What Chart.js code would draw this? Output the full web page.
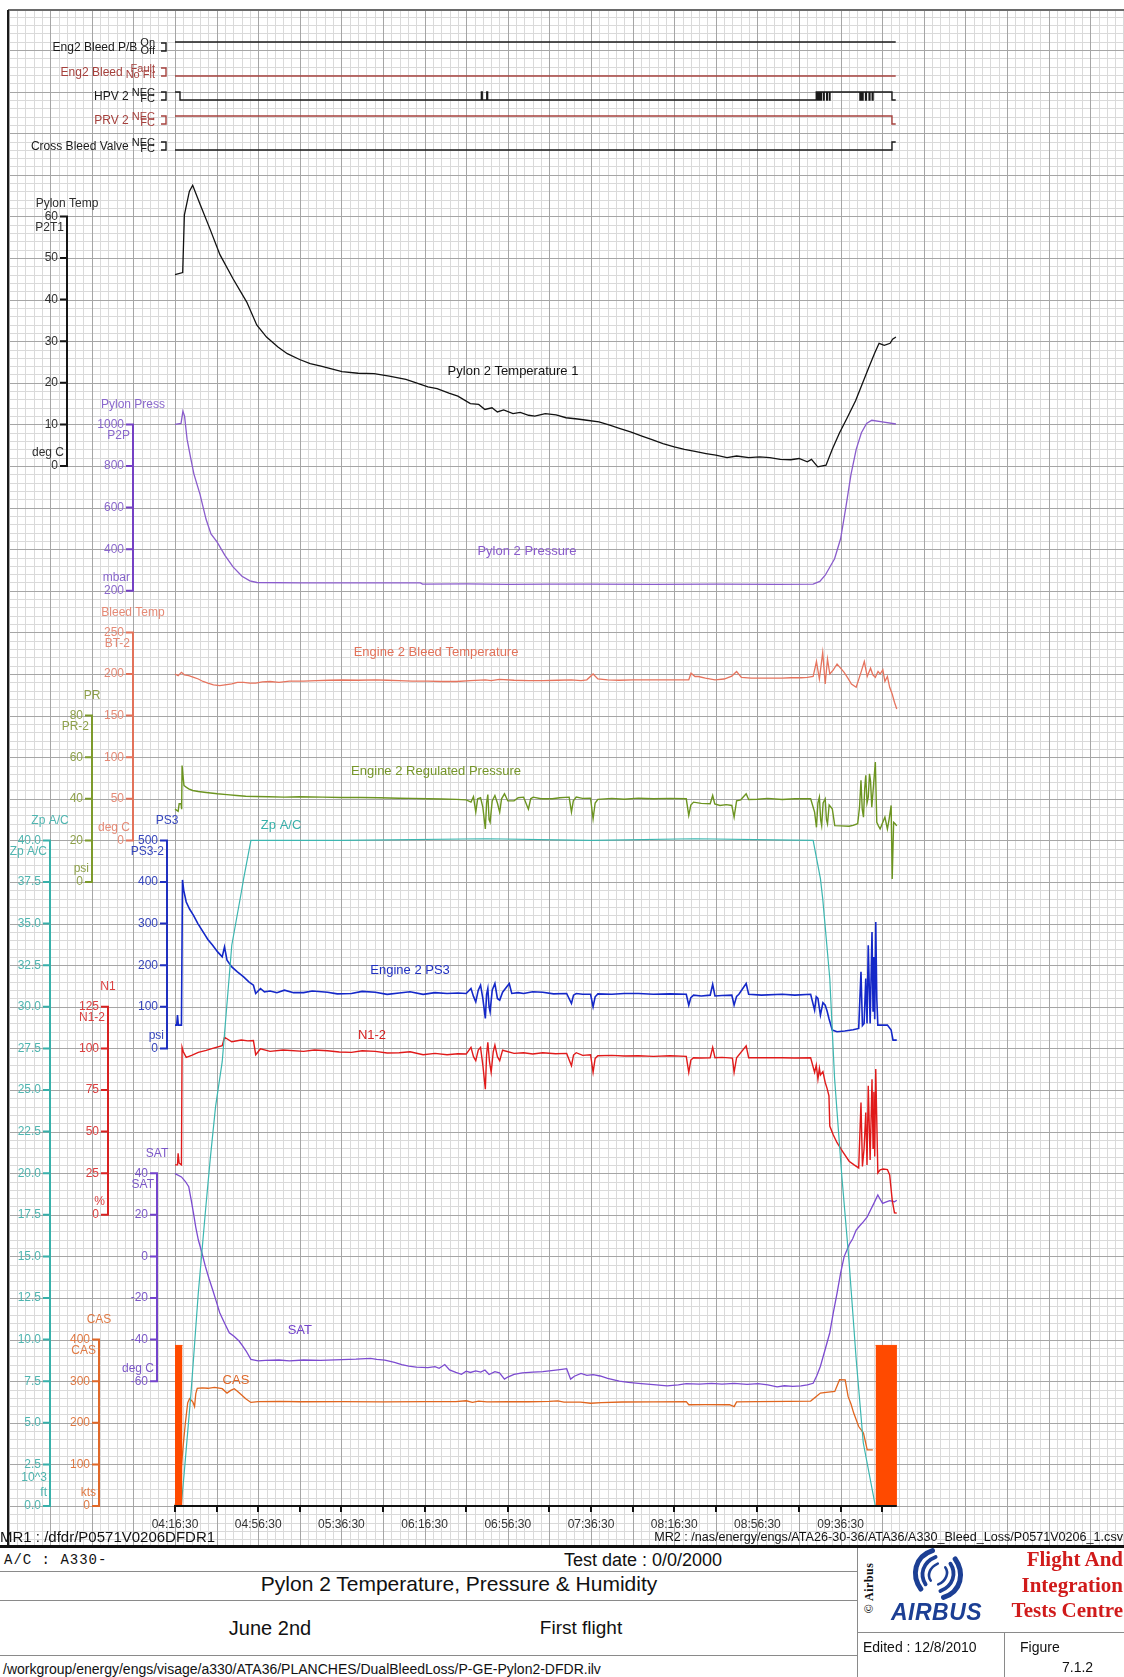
<!DOCTYPE html>
<html>
<head>
<meta charset="utf-8">
<script src="https://cdn.jsdelivr.net/npm/chart.js@4.4.1/dist/chart.umd.min.js"></script>
<style>
html, body { margin: 0; padding: 0; background: #fff; }
body { width: 1124px; height: 1677px; position: relative; overflow: hidden; font-family: "Liberation Sans", Arial, sans-serif; color: #111; }
#flight { position: absolute; left: 0; top: 0; }
.abs { position: absolute; white-space: nowrap; }
.hl { position: absolute; height: 1px; background: #8a8a8a; }
.vl { position: absolute; width: 1px; background: #8a8a8a; }
.mr { line-height: 16px; top: 1529px; }
.row { line-height: 24px; }
.red { font-family: "Liberation Serif", "Times New Roman", serif; font-weight: bold; color: #d01b1b; font-size: 21px; line-height: 24px; right: 1px; }
</style>
</head>
<body>
<canvas id="flight" width="1124" height="1546"></canvas>

<div class="abs mr" style="left:0;font-size:15px">MR1 : /dfdr/P0571V0206DFDR1</div>
<div class="abs mr" style="right:1px;font-size:12.6px">MR2 : /nas/energy/engs/ATA26-30-36/ATA36/A330_Bleed_Loss/P0571V0206_1.csv</div>

<!-- TITLE BLOCK -->
<div class="abs" style="left:0;top:1545px;width:1124px;height:3px;background:#111"></div>
<div class="hl" style="left:0;top:1571px;width:857px"></div>
<div class="hl" style="left:0;top:1600px;width:857px"></div>
<div class="hl" style="left:0;top:1655px;width:857px"></div>
<div class="vl" style="left:857px;top:1548px;height:129px"></div>
<div class="hl" style="left:857px;top:1632px;width:267px"></div>
<div class="vl" style="left:1004px;top:1632px;height:45px"></div>

<div class="abs" style="left:4px;top:1551px;font-family:'Liberation Mono',monospace;font-size:14px;line-height:18px;letter-spacing:1px">A/C : A330-</div>
<div class="abs" style="left:564px;top:1550px;font-size:18px;line-height:20px">Test date : 0/0/2000</div>
<div class="abs row" style="left:459px;top:1572px;font-size:21px;transform:translateX(-50%)">Pylon 2 Temperature, Pressure &amp; Humidity</div>
<div class="abs row" style="left:270px;top:1616px;font-size:20px;transform:translateX(-50%)">June 2nd</div>
<div class="abs row" style="left:581px;top:1616px;font-size:19px;transform:translateX(-50%)">First flight</div>
<div class="abs" style="left:3px;top:1661px;font-size:14px;line-height:16px">/workgroup/energy/engs/visage/a330/ATA36/PLANCHES/DualBleedLoss/P-GE-Pylon2-DFDR.ilv</div>

<div class="abs" style="left:869px;top:1588px;transform:translate(-50%,-50%) rotate(-90deg);font-family:'Liberation Serif',serif;font-weight:bold;font-size:12px;letter-spacing:0.5px">&copy; Airbus</div>
<svg class="abs" style="left:909px;top:1547px" width="58" height="54" viewBox="0 0 58 54">
  <g fill="none" stroke="#1c3f94" stroke-linecap="round" transform="rotate(-18 29 27)">
    <path d="M31 3 C12 3 3 20 8 36" stroke-width="5"/>
    <path d="M32 10 C18 11 11 22 14 33" stroke-width="3.8"/>
    <path d="M32 17 C23 18 18 25 20 31" stroke-width="2.6"/>
    <path d="M27 51 C46 51 55 34 50 18" stroke-width="5"/>
    <path d="M26 44 C40 43 47 32 44 21" stroke-width="3.8"/>
    <path d="M26 37 C35 36 40 29 38 23" stroke-width="2.6"/>
  </g>
</svg>
<div class="abs" style="left:891px;top:1599px;font-weight:bold;font-style:italic;font-size:23px;line-height:26px;color:#1c3f94;letter-spacing:0.5px">AIRBUS</div>
<div class="abs red" style="top:1547px">Flight And</div>
<div class="abs red" style="top:1573px">Integration</div>
<div class="abs red" style="top:1598px">Tests Centre</div>
<div class="abs" style="left:863px;top:1639px;font-size:14px;line-height:16px">Edited : 12/8/2010</div>
<div class="abs" style="left:1020px;top:1639px;font-size:14px;line-height:16px">Figure</div>
<div class="abs" style="left:1062px;top:1659px;font-size:14px;line-height:16px">7.1.2</div>

<script>
// TIME AXIS (minutes after 04:16:30)
const TIME_TICKS = [0, 20, 40, 60, 80, 100, 120, 140, 160, 180, 200, 220, 240, 260, 280, 300, 320, 340];
const TIME_LABEL_AT = [0, 40, 80, 120, 160, 200, 240, 280, 320];
const TIME_LABELS = ['04:16:30', '04:56:30', '05:36:30', '06:16:30', '06:56:30', '07:36:30', '08:16:30', '08:56:30', '09:36:30'];
const TIME_END = 347;

// Y AXIS TICKS
const PT_TICKS  = [0, 10, 20, 30, 40, 50, 60];
const PP_TICKS  = [200, 400, 600, 800, 1000];
const BT_TICKS  = [0, 50, 100, 150, 200, 250];
const PR_TICKS  = [0, 20, 40, 60, 80];
const ZP_TICKS  = [0, 2.5, 5, 7.5, 10, 12.5, 15, 17.5, 20, 22.5, 25, 27.5, 30, 32.5, 35, 37.5, 40];
const PS3_TICKS = [0, 100, 200, 300, 400, 500];
const N1_TICKS  = [0, 25, 50, 75, 100, 125];
const SAT_TICKS = [-60, -40, -20, 0, 20, 40];
const CAS_TICKS = [0, 100, 200, 300, 400];

// DISCRETE SIGNALS: [minute, state]  (state changes at that minute)
const PB_STATE    = [[0, 1], [346.5, 1]];
const FAULT_STATE = [[0, 0], [346.5, 0]];
const HPV_STATE   = [[0, 1], [2.4, 0], [147.3, 1], [147.7, 0], [149.9, 1], [150.3, 0], [308.3, 1], [308.8, 0], [309.2, 1], [309.6, 0], [310.0, 1], [310.4, 0], [310.8, 1], [311.8, 0], [312.1, 1], [313.3, 0], [313.6, 1], [314.6, 0], [314.9, 1], [329.3, 0], [329.7, 1], [330.3, 0], [330.8, 1], [332.0, 0], [332.4, 1], [333.7, 0], [334.1, 1], [335.2, 0], [335.6, 1], [344.7, 0], [346.5, 0]];
const PRV_STATE   = [[0, 1], [344.7, 0], [346.5, 0]];
const XBV_STATE   = [[0, 0], [344.7, 1], [346.5, 1]];

// ANALOG SERIES: [minute, value]
const PYLON_TEMP = [[0,46],[3.7,46.5],[4.5,60.3],[6.9,66],[8.5,67.5],[12,63],[16.8,57],[21.6,50.8],[27.9,45],[34.5,39.4],[39.3,33.9],[44,31],[49.5,28.6],[54,27],[59.9,25.6],[65,24.6],[70.2,24],[80.3,22.7],[88,22.3],[95.7,22.2],[103,21.6],[111,20.8],[116,20],[121.6,19],[126,18.6],[131.7,17.5],[136,16.8],[142,15],[146,14.8],[149,13.6],[152.4,14],[155,13],[158,13.5],[162.5,12.6],[166,12.9],[170,12.2],[173,12],[178,12.6],[183.2,12.3],[188,11.6],[193.5,11.3],[198,11],[203.8,10.6],[209,9.8],[214,9],[219,8.2],[224.5,7.2],[229,6.4],[234.6,5.4],[240,4.6],[244.9,4],[250,3.5],[255.3,3],[260,2.6],[265.4,2],[270,2.4],[275.9,2],[281,2.2],[286,2],[291,1.6],[296,1.5],[300,1.8],[304,1],[306,1.6],[309,-0.2],[313,0.2],[316,4],[319.5,8],[323,11.4],[327.2,15.7],[330.3,19.6],[333.4,23.5],[336.5,27.3],[338.5,29.5],[341,29],[343.8,29.5],[345,30.5],[346.6,31]];
const PYLON_PRESS = [[0,1000],[2.9,1005],[3.8,1063],[4.6,1040],[5.8,929],[7.5,840],[9.1,761],[12,665],[14.9,545],[17.3,473],[20.2,435],[24,370],[27.9,315],[32.2,270],[36,248],[39.4,240],[60,238],[90,238],[118,238],[119,232],[140,233],[160,231],[180,232],[200,232],[230,231],[260,232],[290,231],[306.8,232],[310,245],[312.6,275],[317.1,354],[320,450],[322.5,600],[325,760],[327.5,880],[330,960],[332.5,1005],[335,1020],[340,1012],[346.6,1002]];
const BLEED_TEMP = [[0,200],[1.5,198],[3.1,202],[4.5,199],[6.6,198],[9,196],[11.2,194],[13.5,191],[15.8,189],[18.5,187],[21.5,186],[24,187],[27.3,188],[30,190],[33,190],[36,189],[38.8,189],[42,190.5],[45.7,191],[50,190],[55,191.5],[61.8,191.5],[68,192],[74,192.5],[80.2,192.8],[88,192.5],[96.3,193],[102,192.5],[107.8,192],[114,191.5],[121.6,191.5],[128,191],[135.4,191],[142,192],[149.2,193],[152,192],[156,193.5],[163,192.5],[170,192],[176.8,192],[184,192.5],[190.6,193],[195.2,192],[198,193],[201,200],[203.3,194],[208,193],[213.6,192.5],[220,193],[227.4,193],[234,193],[241.2,193],[247,193],[248.1,201],[250,197],[251.6,197],[255,195],[259.6,193],[264,194],[267.7,197.5],[270,203],[272.3,196],[277,195],[282.6,195],[288,195],[291.9,195],[296,195.5],[301,195.5],[304,196],[306.8,197],[308.4,215],[309.8,194],[311.4,226],[312.6,188],[313.7,218],[314.8,200],[316.5,205],[318.3,212],[320,207],[321.7,202],[323.5,195],[325.2,188],[327.5,184],[329.8,202],[331.4,215],[332.8,197],[334.4,207],[335.5,199],[336.7,196],[338,203],[339,200],[340.3,205],[341.3,191],[342.5,197],[343.6,184],[344.8,176],[345.9,166],[347,158]];
const REG_PRESS = [[0,35],[1.5,34],[2,37.6],[2.9,37.6],[3.2,35],[3.4,56],[4.3,46.4],[5.5,45.5],[6.6,44.8],[8.5,44],[11.2,43.5],[15,43],[20.4,42.4],[25,42],[29.6,41.6],[34,41.2],[38.8,41.1],[45,41],[52.6,40.8],[60,41],[71,40.8],[80,40.6],[89.4,40.6],[98,40.5],[107.8,40.3],[114,40.2],[121.6,40],[128,39.9],[135.4,39.7],[140,39.5],[142.3,38.4],[143.5,41],[144.6,33.6],[145.5,40],[146.9,40.5],[148,36],[149.2,25.5],[149.8,38],[150.4,42],[151,30],[151.5,28.7],[152.5,39],[153.8,41.6],[155,38],[156.1,33.6],[157,40],[158.4,42.4],[160,39],[163,39],[165,40.5],[167.6,40.8],[169.9,35],[171,40],[172.2,40.8],[176,40],[181.4,40],[185,40.5],[189.5,40.8],[190.6,33.6],[191.5,39],[192.9,40.8],[196,40.2],[199.8,40.3],[201,30.3],[202,38],[203.3,39.7],[210,40.2],[216,39.8],[222.8,40.3],[230,40],[238,40.2],[245.8,40],[247,32],[248,37],[249.3,38.4],[253,37.8],[257.3,37.6],[258.5,41.6],[259.5,37.5],[262,36.8],[265,37.2],[267.7,36.8],[268.8,31.2],[270,39],[272,39.5],[274.6,42.4],[275.8,39.7],[280,39.8],[285,40.2],[291.9,39.7],[298,40],[305.6,40],[307.5,33.6],[308.4,26.3],[309.1,38],[309.8,40.8],[310.4,30],[310.9,27.1],[311.6,38],[312.6,40],[313.2,30],[313.7,28],[314.5,37],[316,35.2],[317.2,27.1],[320,27],[324.1,26.8],[326,27.2],[328.2,28],[329.1,36],[329.8,48.9],[330.4,35],[331,31.2],[331.6,45],[332.1,51.3],[332.7,38],[333.3,40.8],[333.9,52],[334.4,48.5],[335,36],[335.5,42.3],[336.1,50],[336.7,57.7],[337.4,28.7],[338.2,27],[339,25.5],[340,28],[341.3,31.2],[342.5,25.5],[343.3,30],[344.3,36.8],[344.8,1.4],[345.5,28.7],[346.2,28],[347,27]];
const ZP_AC = [[0,0],[3,0],[4.3,1.8],[7.7,6.8],[11.2,12.8],[14.7,17.8],[16.9,20.8],[19.5,24],[22.7,26.7],[27.3,33.7],[31.9,36.9],[33,37.7],[36.5,40],[80,40],[150,40.1],[200,40],[250,40.1],[306.8,40],[310.3,37.7],[311.4,36.5],[314.8,31.7],[317.1,25.7],[320.6,19.8],[324,14.8],[327.5,8.8],[330.9,3.8],[336.7,0],[347,0]];
const PS3 = [[0,56],[0.8,56],[1.2,80],[1.6,56],[3.1,56],[3.6,405],[4.2,380],[5.4,352],[7,335],[8.9,320],[11,300],[13.5,280],[15.8,262],[18.1,248],[20.5,232],[22.7,220],[23.8,244],[25,212],[27.3,196],[30,184],[33,172],[35.5,160],[37.7,152],[38.8,132],[41.1,144],[43,136],[45.7,138],[49,134],[52.6,140],[57,134],[61.8,134],[66,138],[73.3,135],[78,131],[84.8,132],[90,137],[96.3,135],[102,130],[107.8,133],[113,136],[119.3,130],[125,134],[130.8,132],[136,133],[140,132],[142.3,144],[143.5,125],[144.6,112],[145.8,140],[146.9,152],[148,120],[149.2,72],[149.8,130],[150.4,144],[151,100],[151.5,88],[152.5,140],[153.8,156],[155,120],[156.1,116],[157.5,135],[160.7,156],[161.9,132],[165,134],[167.6,132],[172,136],[176.8,135],[182,131],[188.3,132],[190.6,108],[191.6,128],[192.9,132],[196,130],[199.8,130],[201,100],[202,124],[203.3,131],[210,130],[216,132],[222.8,132],[230,130],[238,131],[245.8,130],[247,104],[248,122],[249.3,128],[253,126],[257.3,128],[258.5,154],[259.6,126],[263,127],[267.7,128],[268.8,104],[270,125],[271.1,130],[274.6,156],[275.8,130],[282,128],[291.9,130],[298,128],[305.6,130],[307.5,92],[308.3,124],[309.1,120],[309.7,100],[310.3,80],[311.5,110],[312.6,104],[313.5,90],[314.4,72],[316,44],[318.3,40],[322,42],[326,45],[328.7,48],[329.8,184],[330.5,55],[331.3,60],[332.1,168],[332.7,60],[333.3,248],[334.2,60],[335.1,280],[335.6,90],[336,220],[336.4,70],[336.9,304],[337.4,120],[337.9,56],[340,56],[342.5,56],[344.3,44],[345.2,20],[347,20]];
const N1 = [[0,30],[1.2,30],[1.5,37],[2,31],[3.1,30],[3.4,100.6],[4,98],[5.4,94.6],[8,95.8],[11.2,97.6],[15,98.8],[18.1,100],[22.7,101.6],[23.8,106.7],[27.3,104],[31.9,105],[35,104.5],[37.7,104.7],[38.8,96.2],[41.1,99.8],[45.7,98.2],[52,99],[61.8,98.2],[67,99],[73.3,98.6],[79,97.8],[84.8,97.6],[90,98.6],[96.3,98.2],[102,97.2],[107.8,97.4],[113,98],[119.3,96.2],[125,97],[130.8,96.2],[136,96.8],[140,96.6],[142.3,100.6],[143.5,95],[144.6,92.6],[145.8,99],[146.9,100.6],[148,90],[149.2,75.5],[149.8,96],[150.4,103.7],[151.2,92],[152,85.6],[153,98],[153.8,102],[155,95],[156.1,92.6],[157.5,99],[158.4,98.6],[163,97],[167.6,97.4],[172,96.6],[176.8,97.4],[183,96.8],[188.3,97],[190.6,89.6],[191.6,96],[192.9,97.4],[196,95.8],[199.8,96.2],[201,85.6],[202,94],[203.3,95.6],[210,95.8],[216,95.4],[222.8,95.6],[230,95.2],[238,95.6],[245.8,95.2],[247,85.6],[248,93],[249.3,94.4],[253,94.2],[257.3,94.4],[258.5,100.6],[259.6,94.4],[263,94.6],[268,94.2],[268.8,85.6],[270,94.4],[274.6,101.6],[275.8,94.4],[282,94.4],[291.9,94.4],[298,94.2],[305.6,94.4],[307.5,85.6],[308.3,90],[309.1,81.5],[309.8,88],[310.3,84],[311.5,86],[312.6,79.5],[313.5,76],[314.4,71.5],[314.8,53.3],[316.5,48],[318.3,43.3],[321,38],[324.1,32.2],[326.5,30],[328.7,28.2],[329.8,67.5],[330.5,29],[331.3,40],[332.1,61.4],[332.7,30],[333.3,77.5],[334.2,33],[335.1,81.5],[335.6,40],[336,74],[336.4,35],[336.9,87.6],[337.9,25.2],[339,27],[340.5,27.5],[342.5,27.2],[343.6,24],[344.8,9],[345.9,1.2],[347,1]];
const SAT = [[0,39.8],[3.1,38.2],[5,36],[6.6,33.5],[7.8,27],[8.9,20.7],[10,14],[11.2,8],[13,1.5],[14.6,-4.8],[16.3,-10.5],[18.1,-16],[19.8,-21.5],[21.5,-27.1],[23.8,-32],[26.1,-36.7],[28.5,-38.5],[30.8,-40.7],[32.5,-43],[34.2,-45.5],[36.5,-49.5],[40,-50.2],[43.4,-50],[50,-49.8],[55,-50.2],[61.8,-49.8],[70,-50],[80.2,-49.6],[87,-49.4],[94,-49],[97,-49.5],[100.9,-49.9],[105.5,-50.9],[109,-52],[112.4,-52.8],[116,-53.2],[121.6,-53.5],[125,-53],[127,-53.8],[129.7,-52],[132,-54.6],[135,-55.8],[137.7,-56.7],[140,-55.2],[142,-55.8],[144.6,-55],[147,-55.6],[149,-54.6],[151,-56.8],[153.8,-55.4],[156,-56],[158.4,-59],[160,-58],[163,-56.7],[167,-56],[172,-55.6],[176.8,-55.4],[182,-54.8],[186,-54.3],[188.3,-54],[190.2,-59],[192,-57.6],[195.2,-56.3],[198,-57.2],[201,-56.8],[204.4,-57.5],[208,-58.6],[213.6,-60],[218,-60.6],[222.8,-61],[230,-61.6],[236.6,-62.2],[242,-61.8],[245.8,-61.2],[252,-61.4],[258,-61],[263,-61.4],[268.8,-61],[275,-61.5],[280.3,-61.2],[285,-61.8],[289.5,-62.7],[293,-62.2],[297,-62.5],[301,-62.2],[304,-61.8],[306.8,-61],[308.5,-57.5],[310.3,-52.8],[312.5,-45],[314.8,-36.7],[316.5,-27],[318.3,-17.6],[320,-8],[321.7,-0.1],[323,3],[324.1,5.6],[325.8,8.5],[327.5,12.7],[329,14.5],[331,16.7],[332.8,19],[334.4,22.3],[336,25.5],[337.9,29.5],[339,27.5],[340.2,25.5],[342,26.2],[343.6,26.8],[345.9,26.3],[347,27]];
const CAS = [[0,0],[2.5,60],[3.5,120],[4.3,164],[5,200],[6.1,248],[7,258],[7.7,255],[8.6,250],[9.4,239],[10,270],[10.7,283],[13,284],[15.8,283],[19,285],[22.7,282],[25,271.5],[26.8,278],[28.5,282],[30,276],[31.9,267.5],[34,258],[36.5,249],[40,251],[50.3,251.4],[60,250.6],[80,251],[100,250.4],[120,251],[135,250.8],[140,253],[143,249],[146,252],[150,250.2],[160,251],[170,250.6],[180,251.6],[184,252.6],[187,249.6],[195,249.8],[199.8,247],[205,248.6],[215,250],[230,250.4],[245.8,250.8],[247,243.4],[255,243.6],[266.6,243.4],[268.8,239],[270,250.4],[280,251],[295,251.4],[305.6,252.2],[308,262],[310.3,271.5],[313,273],[317.2,275.5],[319.5,303.6],[322.2,303],[323.6,263.5],[325,245],[326.3,223.4],[328.7,191],[331,175.3],[332.8,135],[335.5,135]];
const GROUND_BAR_1 = [[0, 386], [3.6, 386]];
const GROUND_BAR_2 = [[336.8, 386], [347.1, 386]];

// LAYOUT OF THE GRAPH PAPER
const G = 41.6;            // one big square, px
const ROWS = 36;           // big squares from x axis up to the top border
const X0 = 175, Y0 = 1506; // pixel of 04:16:30 on the x axis
const MIN_PER_SQ = 20;
const X_MAX = 18 * MIN_PER_SQ;
const PLOT_TOP = Y0 - ROWS * G;
const FONT = '"Liberation Sans", Arial, sans-serif';

// axis placement: x of the axis line, grid row of its lowest tick
const AXES = [
  { id: 'pt',  ticks: PT_TICKS,  row: 25, x: 67,  color: '#151515', text: '#303030', title: 'Pylon Temp',  name: 'P2T1',   unit: ['deg C'], gap: 13 },
  { id: 'pp',  ticks: PP_TICKS,  row: 22, x: 133, color: '#7440c4', text: '#8a68cc', title: 'Pylon Press', name: 'P2P',    unit: ['mbar'] },
  { id: 'bt',  ticks: BT_TICKS,  row: 16, x: 133, color: '#e2725a', text: '#e58a76', title: 'Bleed Temp',  name: 'BT-2',   unit: ['deg C'] },
  { id: 'pr',  ticks: PR_TICKS,  row: 15, x: 92,  color: '#7c9a2c', text: '#8ea04a', title: 'PR',          name: 'PR-2',   unit: ['psi'] },
  { id: 'zp',  ticks: ZP_TICKS,  row: 0,  x: 50,  color: '#38b0aa', text: '#4fb5b0', title: 'Zp A/C',      name: 'Zp A/C', unit: ['10^3', 'ft'], dec: 1 },
  { id: 'ps3', ticks: PS3_TICKS, row: 11, x: 167, color: '#2030c0', text: '#3646bc', title: 'PS3',         name: 'PS3-2',  unit: ['psi'] },
  { id: 'n1',  ticks: N1_TICKS,  row: 7,  x: 108, color: '#d82222', text: '#dc4040', title: 'N1',          name: 'N1-2',   unit: ['%'] },
  { id: 'sat', ticks: SAT_TICKS, row: 3,  x: 157, color: '#7444cc', text: '#7c58c8', title: 'SAT',         name: 'SAT',    unit: ['deg C'] },
  { id: 'cas', ticks: CAS_TICKS, row: 0,  x: 99,  color: '#e06828', text: '#e07a44', title: 'CAS',         name: 'CAS',    unit: ['kts'] }
];

// discrete rows: pixel of state 1 / state 0
const DISC = [
  { id: 'd1', data: PB_STATE,    label: 'Eng2 Bleed P/B',    hi: 'On',    lo: 'Off',    color: '#1a1a1a', y1: 42,  y0: 52 },
  { id: 'd2', data: FAULT_STATE, label: 'Eng2 Bleed',        hi: 'Fault', lo: 'No Flt', color: '#a5403c', y1: 68,  y0: 76 },
  { id: 'd3', data: HPV_STATE,   label: 'HPV 2',             hi: 'NEC',   lo: 'FC',     color: '#1a1a1a', y1: 92,  y0: 100 },
  { id: 'd4', data: PRV_STATE,   label: 'PRV 2',             hi: 'NEC',   lo: 'FC',     color: '#a5403c', y1: 116, y0: 124 },
  { id: 'd5', data: XBV_STATE,   label: 'Cross Bleed Valve', hi: 'NEC',   lo: 'FC',     color: '#1a1a1a', y1: 142, y0: 150 }
];

// curve names written on the plot, at [minute, value] of their own axis
const CURVE_LABELS = [
  { text: 'Pylon 2 Temperature 1',       axis: 'pt',  t: 162.5, v: 22.8,  color: '#151515' },
  { text: 'Pylon 2 Pressure',            axis: 'pp',  t: 169.2, v: 388,   color: '#8a5ccc' },
  { text: 'Engine 2 Bleed Temperature',  axis: 'bt',  t: 125.5, v: 226,   color: '#e2725a' },
  { text: 'Engine 2 Regulated Pressure', axis: 'pr',  t: 125.5, v: 53,    color: '#76962a' },
  { text: 'Zp A/C',                      axis: 'zp',  t: 51,    v: 40.9,  color: '#38b0aa' },
  { text: 'Engine 2 PS3',                axis: 'ps3', t: 113,   v: 188,   color: '#2030c0' },
  { text: 'N1-2',                        axis: 'n1',  t: 94.7,  v: 108,   color: '#d82222' },
  { text: 'SAT',                         axis: 'sat', t: 60,    v: -35.5, color: '#7444cc' },
  { text: 'CAS',                         axis: 'cas', t: 29.3,  v: 303,   color: '#e06828' }
];

const pts = arr => arr.map(([x, y]) => ({ x, y }));

// SCALES
const scales = { x: { type: 'linear', min: 0, max: X_MAX, display: false } };
AXES.forEach(a => {
  const step = a.ticks[1] - a.ticks[0];
  const min = a.ticks[0] - a.row * step;
  scales[a.id] = { type: 'linear', axis: 'y', position: 'left', display: false, min, max: min + ROWS * step };
});
DISC.forEach(d => {
  const k = d.y0 - d.y1;
  scales[d.id] = { type: 'linear', axis: 'y', position: 'left', display: false,
    min: -(Y0 - d.y0) / k, max: 1 + (d.y1 - PLOT_TOP) / k };
});

// DATASETS
function line(data, axis, color, width) {
  return { data: pts(data), yAxisID: axis, borderColor: color, borderWidth: width || 1.3,
    pointRadius: 0, tension: 0, fill: false, clip: false };
}
const datasets = [
  line(PYLON_TEMP, 'pt', '#121212', 1.3),
  line(PYLON_PRESS, 'pp', '#8a5ccc'),
  line(BLEED_TEMP, 'bt', '#e6745e'),
  line(REG_PRESS, 'pr', '#6c9420', 1.4),
  line(ZP_AC, 'zp', '#3cb6b0', 1.2),
  line(PS3, 'ps3', '#1428c8', 1.6),
  line(N1, 'n1', '#e01a1a', 1.4),
  line(SAT, 'sat', '#7c4bd0'),
  line(CAS, 'cas', '#e0651e')
];
[GROUND_BAR_1, GROUND_BAR_2].forEach(b => datasets.push({
  data: pts(b), yAxisID: 'cas', borderColor: '#ff4a00', backgroundColor: '#ff4a00', borderWidth: 1,
  pointRadius: 0, fill: { value: 0 }, order: -1, clip: false
}));
DISC.forEach(d => datasets.push({
  data: pts(d.data), yAxisID: d.id, borderColor: d.color, borderWidth: 1.4,
  pointRadius: 0, stepped: true, fill: false, clip: false
}));

// GRAPH PAPER BACKGROUND
const paperPlugin = {
  id: 'paper',
  beforeDraw(chart) {
    const { ctx, chartArea } = chart;
    const xs = chart.scales.x;
    const gx = xs.getPixelForValue(0);
    const gw = xs.getPixelForValue(MIN_PER_SQ) - gx;
    const gy = chartArea.bottom;
    const gh = (chartArea.bottom - chartArea.top) / ROWS;
    const L = 8, T = 10, R = chart.width, B = chart.height;
    ctx.save();
    ctx.fillStyle = '#fff';
    ctx.fillRect(0, 0, chart.width, chart.height);
    ctx.lineWidth = 1;
    [[false, '#dadada'], [true, '#a6a6a6']].forEach(([major, col]) => {
      ctx.strokeStyle = col;
      ctx.beginPath();
      for (let i = -30; i <= 150; i++) {
        if ((i % 5 === 0) !== major) continue;
        const x = Math.round(gx + i * gw / 5) + 0.5;
        if (x > L && x < R) { ctx.moveTo(x, T); ctx.lineTo(x, B); }
      }
      for (let j = -10; j <= ROWS * 5 + 10; j++) {
        if ((j % 5 === 0) !== major) continue;
        const y = Math.round(gy - j * gh / 5) + 0.5;
        if (y > T && y < B) { ctx.moveTo(L, y); ctx.lineTo(R, y); }
      }
      ctx.stroke();
    });
    ctx.strokeStyle = '#6a6a6a'; ctx.lineWidth = 2;
    ctx.beginPath(); ctx.moveTo(L, T); ctx.lineTo(R, T); ctx.stroke();
    ctx.strokeStyle = '#1a1a1a';
    ctx.beginPath(); ctx.moveTo(L, T); ctx.lineTo(L, B); ctx.stroke();
    ctx.restore();
  }
};

// AXES, DISCRETE LABELS AND CURVE NAMES
const axesPlugin = {
  id: 'axes',
  afterDatasetsDraw(chart) {
    const ctx = chart.ctx;
    const xs = chart.scales.x;
    ctx.save();
    ctx.textBaseline = 'middle';
    ctx.font = '12px ' + FONT;

    AXES.forEach(a => {
      const s = chart.scales[a.id];
      const t = a.ticks;
      const yTop = s.getPixelForValue(t[t.length - 1]);
      const yBot = s.getPixelForValue(t[0]);
      ctx.strokeStyle = a.color; ctx.lineWidth = 2;
      ctx.beginPath(); ctx.moveTo(a.x, yTop - 1); ctx.lineTo(a.x, yBot + 1);
      t.forEach(v => { const y = s.getPixelForValue(v); ctx.moveTo(a.x - 7, y); ctx.lineTo(a.x, y); });
      ctx.stroke();
      ctx.fillStyle = a.text; ctx.textAlign = 'right';
      t.forEach(v => ctx.fillText(v.toFixed(a.dec || 0), a.x - 9, s.getPixelForValue(v)));
      ctx.fillText(a.name, a.x - 3, yTop + 11);
      a.unit.forEach((u, i) => ctx.fillText(u, a.x - 3, yBot - 13 - (a.unit.length - 1 - i) * 15));
      ctx.textAlign = 'center';
      ctx.fillText(a.title, a.x, yTop - (a.gap || 20));
    });

    // time axis
    const yb = chart.chartArea.bottom;
    ctx.strokeStyle = '#111'; ctx.lineWidth = 2;
    ctx.beginPath();
    ctx.moveTo(xs.getPixelForValue(0) - 1, yb); ctx.lineTo(xs.getPixelForValue(TIME_END), yb);
    TIME_TICKS.forEach(v => { const x = Math.round(xs.getPixelForValue(v)); ctx.moveTo(x, yb); ctx.lineTo(x, yb + 6); });
    ctx.stroke();
    ctx.fillStyle = '#333'; ctx.textAlign = 'center';
    TIME_LABEL_AT.forEach((v, i) => ctx.fillText(TIME_LABELS[i], xs.getPixelForValue(v), yb + 19));

    // discrete signal names
    const xr = xs.getPixelForValue(0) - 20;
    DISC.forEach(d => {
      const s = chart.scales[d.id];
      const y1 = s.getPixelForValue(1), y0 = s.getPixelForValue(0), ym = (y1 + y0) / 2;
      ctx.fillStyle = d.color; ctx.strokeStyle = d.color; ctx.lineWidth = 1.4;
      ctx.textAlign = 'right';
      ctx.font = '11px ' + FONT;
      ctx.fillText(d.hi, xr, y1 + 1);
      ctx.fillText(d.lo, xr, y0 - 1);
      const w = Math.max(ctx.measureText(d.hi).width, ctx.measureText(d.lo).width);
      ctx.font = '12px ' + FONT;
      ctx.fillText(d.label, xr - w - 3, ym + 1);
      ctx.beginPath();
      ctx.moveTo(xr + 6, ym - 4); ctx.lineTo(xr + 11, ym - 4); ctx.lineTo(xr + 11, ym + 4); ctx.lineTo(xr + 6, ym + 4);
      ctx.stroke();
    });

    // curve names
    ctx.font = '13px ' + FONT; ctx.textAlign = 'center';
    CURVE_LABELS.forEach(l => {
      ctx.fillStyle = l.color;
      ctx.fillText(l.text, xs.getPixelForValue(l.t), chart.scales[l.axis].getPixelForValue(l.v));
    });
    ctx.restore();
  }
};

new Chart(document.getElementById('flight'), {
  type: 'line',
  data: { datasets },
  options: {
    responsive: false,
    animation: false,
    devicePixelRatio: 1,
    events: [],
    parsing: true,
    layout: { padding: { left: X0, right: 1124 - (X0 + X_MAX / MIN_PER_SQ * G), top: PLOT_TOP, bottom: 1546 - Y0 } },
    scales,
    plugins: { legend: { display: false }, tooltip: { enabled: false } }
  },
  plugins: [paperPlugin, axesPlugin]
});
</script>
</body>
</html>
